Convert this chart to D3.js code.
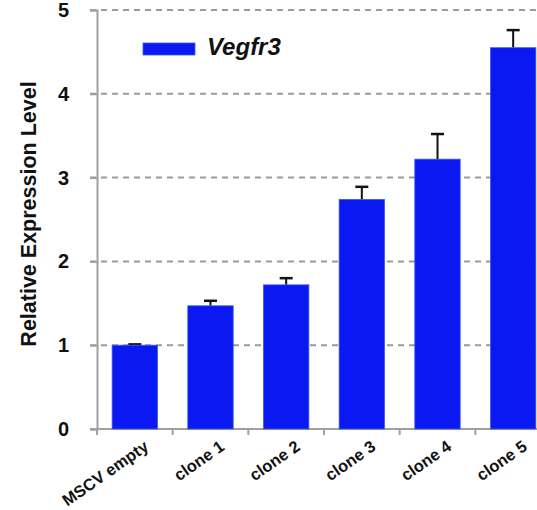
<!DOCTYPE html>
<html>
<head>
<meta charset="utf-8">
<script src="https://cdn.jsdelivr.net/npm/d3@7"></script>
<style>
  body { margin: 0; background: #fff; }
  svg { display: block; font-family: Arial, "Liberation Sans", sans-serif; }
</style>
</head>
<body>
<div id="chart"></div>
<script>
// data
var categories = ["MSCV empty", "clone 1", "clone 2", "clone 3", "clone 4", "clone 5"];
var values = [1.0, 1.47, 1.72, 2.74, 3.22, 4.55];
var errors = [0.01, 0.06, 0.08, 0.15, 0.30, 0.21];
var yTicks = [0, 1, 2, 3, 4, 5];
var seriesName = "Vegfr3";

window.onload = function() {
  drawChart();
};

function drawChart() {
  var width = 537,
      height = 510;

  // plot area (the right part is cut off like in the picture)
  var plot = { left: 97, right: 551, top: 10, bottom: 429 };

  var svg = d3.select("#chart")
    .append("svg")
    .attr("width", width)
    .attr("height", height);

  var x = d3.scaleBand()
    .domain(categories)
    .range([plot.left, plot.right])
    .paddingInner(0.4)
    .paddingOuter(0.2);

  var y = d3.scaleLinear()
    .domain([0, 5])
    .range([plot.bottom, plot.top]);

  // dashed gridlines
  svg.append("g")
    .selectAll("line")
    .data(yTicks.filter(function(d) { return d > 0; }))
    .enter().append("line")
    .attr("x1", plot.left - 7)
    .attr("x2", width)
    .attr("y1", function(d) { return y(d); })
    .attr("y2", function(d) { return y(d); })
    .attr("stroke", "#9a9a9a")
    .attr("stroke-width", 2)
    .attr("stroke-dasharray", "6,5");

  // y axis
  var yAxis = svg.append("g")
    .attr("transform", "translate(" + plot.left + ",0)")
    .call(d3.axisLeft(y).tickValues(yTicks).tickSize(7).tickPadding(21).tickFormat(d3.format("d")));

  yAxis.select(".domain").attr("stroke", "#a0a0a0").attr("stroke-width", 2);
  yAxis.selectAll(".tick line").attr("stroke", "#a0a0a0").attr("stroke-width", 2);
  yAxis.selectAll(".tick text")
    .attr("font-size", 20)
    .attr("font-weight", "bold")
    .attr("fill", "#111");

  // x axis line and ticks at the band edges
  svg.append("line")
    .attr("x1", plot.left - 7)
    .attr("x2", width)
    .attr("y1", plot.bottom)
    .attr("y2", plot.bottom)
    .attr("stroke", "#a0a0a0")
    .attr("stroke-width", 2);

  svg.append("g")
    .selectAll("line")
    .data(categories)
    .enter().append("line")
    .attr("x1", function(d) { return x(d) - x.step() * x.paddingOuter(); })
    .attr("x2", function(d) { return x(d) - x.step() * x.paddingOuter(); })
    .attr("y1", plot.bottom)
    .attr("y2", plot.bottom + 6)
    .attr("stroke", "#a0a0a0")
    .attr("stroke-width", 2);

  // error bars (stem from bar top up to the cap)
  var errG = svg.append("g");
  categories.forEach(function(c, i) {
    var cx = x(c) + x.bandwidth() / 2;
    errG.append("line")
      .attr("x1", cx).attr("x2", cx)
      .attr("y1", y(values[i])).attr("y2", y(values[i] + errors[i]))
      .attr("stroke", "#111").attr("stroke-width", 2);
    errG.append("line")
      .attr("x1", cx - 6.5).attr("x2", cx + 6.5)
      .attr("y1", y(values[i] + errors[i])).attr("y2", y(values[i] + errors[i]))
      .attr("stroke", "#111").attr("stroke-width", 2.5);
  });

  // bars
  svg.append("g")
    .selectAll("rect")
    .data(values)
    .enter().append("rect")
    .attr("x", function(d, i) { return x(categories[i]); })
    .attr("y", function(d) { return y(d); })
    .attr("width", x.bandwidth())
    .attr("height", function(d) { return y(0) - y(d); })
    .attr("fill", "#0a18f2")
    .attr("stroke", "#3a5af5")
    .attr("stroke-width", 0.8);

  // x labels, rotated
  svg.append("g")
    .selectAll("text")
    .data(categories)
    .enter().append("text")
    .attr("transform", function(d) {
      return "translate(" + (x(d) + x.bandwidth() / 2 + 15) + "," + (plot.bottom + 20) + ") rotate(-35)";
    })
    .attr("text-anchor", "end")
    .attr("font-size", 16.5)
    .attr("font-weight", "bold")
    .attr("fill", "#111")
    .text(function(d) { return d; });

  // y title
  svg.append("text")
    .attr("transform", "translate(36,214) rotate(-90)")
    .attr("text-anchor", "middle")
    .attr("font-size", 21.5)
    .attr("font-weight", "bold")
    .attr("fill", "#111")
    .text("Relative Expression Level");

  // legend
  svg.append("rect")
    .attr("x", 143)
    .attr("y", 43)
    .attr("width", 52)
    .attr("height", 12)
    .attr("fill", "#0a18f2")
    .attr("stroke", "#3a5af5")
    .attr("stroke-width", 0.8);

  svg.append("text")
    .attr("x", 207)
    .attr("y", 55)
    .attr("font-size", 24)
    .attr("font-weight", "bold")
    .attr("font-style", "italic")
    .attr("fill", "#111")
    .text(seriesName);
}
</script>
</body>
</html>
